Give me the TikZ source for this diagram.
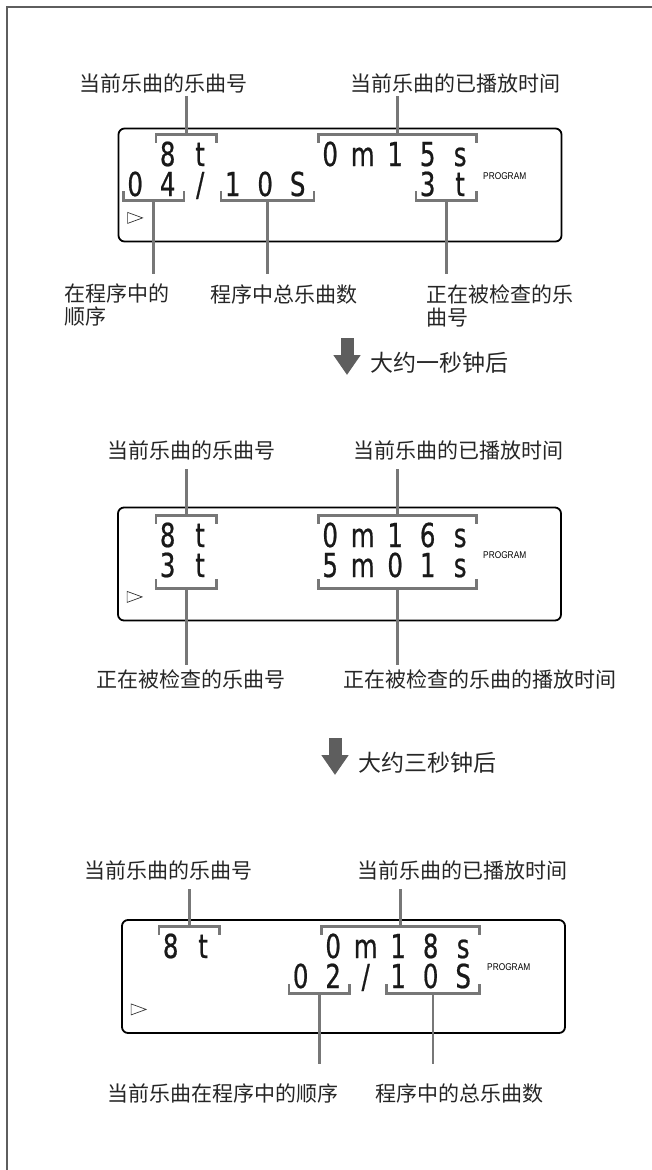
\documentclass[tikz,border=0pt]{standalone}
\usepackage{fontspec}
\newfontfamily\cjk{Noto Sans CJK SC}
\newfontfamily\segfont[FakeStretch=0.74, FakeBold=0.6]{DejaVu Sans}
\newfontfamily\progfont[FakeStretch=0.85]{Liberation Sans}
\usetikzlibrary{arrows.meta}

\definecolor{guia}{HTML}{777777}
\definecolor{marco}{HTML}{5E5E5E}

\newcommand\cel[1]{\makebox[32.5pt]{\hspace{-4.5pt}#1}}
\newcommand\segs[1]{\segsloop#1\relax}
\def\segsloop#1{\ifx#1\relax\else\cel{#1}\expandafter\segsloop\fi}
\newcommand\brkarriba[1]{\draw[brk] ([yshift=2pt]#1.north west) |- ([yshift=10pt]#1.north) -| ([yshift=2pt]#1.north east);}
\newcommand\brkabajo[2][4pt]{\draw[brk] ([yshift=9pt-#1]#2.south west) |- ([yshift=-#1]#2.south) -| ([yshift=9pt-#1]#2.south east);}
\newcommand\marca[1]{\draw[line width=0.7pt, black!80] ([shift={(10,-30)}]#1.south west) -- ++(15,5.5) -- ++(-15,5.5) -- cycle;}

\begin{document}
\begin{tikzpicture}[x=1pt, y=-1pt,
        disp/.style={draw, line width=1.8pt, rounded corners=6pt, minimum width=443pt, minimum height=113pt, inner sep=0pt},
        lbl/.style={font=\cjk\fontsize{21}{23}\selectfont, text=black!85, inner sep=0pt, align=left},
        seg/.style={font=\segfont\fontsize{33}{34}\selectfont, text=black!90, inner xsep=-2.5pt, inner ysep=0pt, text height=21pt, text depth=0pt, anchor=base west},
        prog/.style={font=\progfont\fontsize{9.8}{10}\selectfont, inner sep=0pt, anchor=west},
        brk/.style={guia, line width=2.8pt},
        lead/.style={guia, line width=2.8pt},
        paso/.style={font=\cjk\fontsize{23}{25}\selectfont, text=black!85, inner sep=0pt, anchor=west},
        flecha/.style={marco, line width=13pt, -{Triangle[width=26pt,length=20pt]}}
    ]
        \useasboundingbox (0,0) rectangle (652,1170);
        \draw[marco, line width=1.6pt] (7,1170) -- (7,7) -- (652,7);

        \node[disp] (caja1) at (340,185) {};
        \node[lbl] (num1) at (163,83) {当前乐曲的乐曲号};
        \node[lbl] (tiempo1) at (455,83) {当前乐曲的已播放时间};
        \node[seg] (n1) at (156,166) {\segs{8t}};
        \node[seg] (t1) at (318.5,166) {\segs{0m15s}};
        \node[seg] (o1) at (123.5,196) {\segs{04}};
        \node[seg] (s1) at (188.5,196) {\segs{/}};
        \node[seg] (tot1) at (221,196) {\segs{10S}};
        \node[seg] (chk1) at (416,196) {\segs{3t}};
        \node[prog] (prog1) at (483,176.5) {PROGRAM};
        \node[lbl, anchor=west] (ordL1) at (64,305.5) {在程序中的\\顺序};
        \node[lbl] (totL1) at (284,294) {程序中总乐曲数};
        \node[lbl, anchor=west] (chkL1) at (426,305.5) {正在被检查的乐\\曲号};
        \marca{caja1}
        \brkarriba{n1}
        \brkarriba{t1}
        \brkabajo{o1}
        \brkabajo{tot1}
        \brkabajo{chk1}
        \draw[lead, shorten <=3pt] (num1.south -| n1.north) -- ([yshift=10pt]n1.north);
        \draw[lead, shorten <=3pt] (tiempo1.south -| t1.north) -- ([yshift=10pt]t1.north);
        \draw[lead, shorten >=10.5pt] ([yshift=-4pt]o1.south) -- (o1.south |- ordL1.north);
        \draw[lead, shorten >=10.5pt] ([yshift=-4pt]tot1.south) -- (tot1.south |- totL1.north);
        \draw[lead, shorten >=10.5pt] ([yshift=-4pt]chk1.south) -- (chk1.south |- chkL1.north);

        \node[paso] (paso1) at (370,363) {大约一秒钟后};
        \coordinate (f1a) at (347,338);
        \coordinate (f1b) at (347,375);
        \draw[flecha] (f1a) -- (f1b);

        \node[disp] (caja2) at (339.5,564) {};
        \node[lbl] (num2) at (191,450) {当前乐曲的乐曲号};
        \node[lbl] (tiempo2) at (458,450) {当前乐曲的已播放时间};
        \node[seg] (n2) at (156,547) {\segs{8t}};
        \node[seg] (t2) at (318.5,547) {\segs{0m16s}};
        \node[seg] (chk2) at (156,577) {\segs{3t}};
        \node[seg] (dur2) at (318.5,577) {\segs{5m01s}};
        \node[prog] (prog2) at (483,555) {PROGRAM};
        \node[lbl] (chkL2) at (191,679) {正在被检查的乐曲号};
        \node[lbl] (durL2) at (480,679) {正在被检查的乐曲的播放时间};
        \marca{caja2}
        \brkarriba{n2}
        \brkarriba{t2}
        \brkabajo[11pt]{chk2}
        \brkabajo[11pt]{dur2}
        \draw[lead, shorten <=9.5pt] (num2.south -| n2.north) -- ([yshift=10pt]n2.north);
        \draw[lead, shorten <=9.5pt] (tiempo2.south -| t2.north) -- ([yshift=10pt]t2.north);
        \draw[lead, shorten >=4.5pt] ([yshift=-11pt]chk2.south) -- (chk2.south |- chkL2.north);
        \draw[lead, shorten >=4.5pt] ([yshift=-11pt]dur2.south) -- (dur2.south |- durL2.north);

        \node[paso] (paso2) at (358,763) {大约三秒钟后};
        \coordinate (f2a) at (335,738);
        \coordinate (f2b) at (335,775);
        \draw[flecha] (f2a) -- (f2b);

        \node[disp] (caja3) at (343.5,976.5) {};
        \node[lbl] (num3) at (168,870) {当前乐曲的乐曲号};
        \node[lbl] (tiempo3) at (462,870) {当前乐曲的已播放时间};
        \node[seg] (n3) at (159,958) {\segs{8t}};
        \node[seg] (t3) at (321.5,958) {\segs{0m18s}};
        \node[seg] (o3) at (289,988) {\segs{02}};
        \node[seg] (s3) at (354,988) {\segs{/}};
        \node[seg] (tot3) at (386.5,988) {\segs{10S}};
        \node[prog] (prog3) at (487,967) {PROGRAM};
        \node[lbl] (ordL3) at (222.5,1093) {当前乐曲在程序中的顺序};
        \node[lbl] (totL3) at (459,1093) {程序中的总乐曲数};
        \marca{caja3}
        \brkarriba{n3}
        \brkarriba{t3}
        \brkabajo[5pt]{o3}
        \brkabajo[5pt]{tot3}
        \draw[lead, shorten <=9.5pt] (num3.south -| n3.north) -- ([yshift=10pt]n3.north);
        \draw[lead, shorten <=9.5pt] (tiempo3.south -| t3.north) -- ([yshift=10pt]t3.north);
        \draw[lead, shorten >=19.5pt] ([yshift=-5pt]o3.south) -- (o3.south |- ordL3.north);
        \draw[lead, shorten >=19.5pt] ([yshift=-5pt]tot3.south) -- (tot3.south |- totL3.north);
    \end{tikzpicture}
\end{document}
